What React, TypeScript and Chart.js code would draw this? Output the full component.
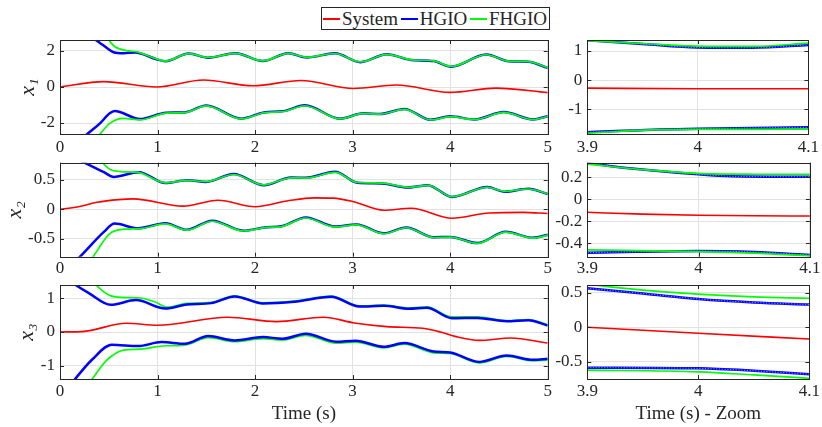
import React, { useEffect, useRef } from 'react';
import { Chart, registerables } from 'chart.js';

Chart.register(...registerables);

type P = [number, number][];

// ---------------- tick values / labels ----------------
const timeTicks = [0, 1, 2, 3, 4, 5];
const timeTickLabels = ['0', '1', '2', '3', '4', '5'];
const zoomTicks = [3.9, 4.0, 4.1];
const zoomTickLabels = ['3.9', '4', '4.1'];

const x1Ticks = [-2, 0, 2];
const x1TickLabels = ['-2', '0', '2'];
const x2Ticks = [-0.5, 0, 0.5];
const x2TickLabels = ['-0.5', '0', '0.5'];
const x3Ticks = [-1, 0, 1];
const x3TickLabels = ['-1', '0', '1'];
const zx1Ticks = [-1, 0, 1];
const zx1TickLabels = ['-1', '0', '1'];
const zx2Ticks = [-0.4, -0.2, 0, 0.2];
const zx2TickLabels = ['-0.4', '-0.2', '0', '0.2'];
const zx3Ticks = [-0.5, 0, 0.5];
const zx3TickLabels = ['-0.5', '0', '0.5'];

const legendLabels = ['System', 'HGIO', 'FHGIO'];

// ---------------- x1 (0..5 s) ----------------
const sysX1: P = [[0, 0], [0.45, 0.3], [0.99, 0.0], [1.47, 0.39], [1.98, 0.07], [2.47, 0.36], [3.01, -0.08], [3.45, 0.11], [4.0, -0.3], [4.47, -0.06], [5.0, -0.31]];
const hgioUpX1: P = [[0, 4.0], [0.37, 2.6], [0.44, 2.33], [0.55, 1.93], [0.65, 1.87], [0.77, 1.92], [0.99, 1.54], [1.08, 1.43], [1.32, 1.86], [1.52, 1.63], [1.8, 1.88], [2.08, 1.44], [2.34, 1.88], [2.53, 1.64], [2.82, 1.87], [3.08, 1.38], [3.35, 1.82], [3.6, 1.5], [3.83, 1.44], [4.01, 1.12], [4.37, 1.8], [4.6, 1.43], [4.8, 1.4], [5.0, 1.06]];
const hgioLoX1: P = [[0, -4.0], [0.28, -2.61], [0.41, -2.02], [0.51, -1.46], [0.56, -1.33], [0.82, -1.78], [1.09, -1.43], [1.28, -1.41], [1.5, -1.03], [1.86, -1.76], [2.09, -1.41], [2.29, -1.34], [2.51, -1.02], [2.87, -1.76], [3.11, -1.46], [3.28, -1.5], [3.53, -1.22], [3.8, -1.82], [4.0, -1.63], [4.25, -1.8], [4.55, -1.39], [4.85, -1.8], [5.0, -1.62]];
const fhgioUpX1: P = [[0, 6.0], [0.3, 3.8], [0.5, 2.6], [0.56, 2.25], [0.68, 2.02], [0.79, 1.95], [0.99, 1.56], [1.08, 1.44], [1.32, 1.85], [1.52, 1.64], [1.8, 1.87], [2.08, 1.45], [2.34, 1.87], [2.53, 1.65], [2.82, 1.86], [3.08, 1.39], [3.35, 1.81], [3.6, 1.51], [3.83, 1.45], [4.01, 1.14], [4.37, 1.79], [4.6, 1.44], [4.8, 1.41], [5.0, 1.08]];
const fhgioLoX1: P = [[0, -5.5], [0.25, -3.6], [0.41, -2.61], [0.51, -2.02], [0.65, -1.74], [0.82, -1.83], [1.09, -1.45], [1.28, -1.42], [1.5, -1.05], [1.86, -1.77], [2.09, -1.43], [2.29, -1.36], [2.51, -1.04], [2.87, -1.77], [3.11, -1.47], [3.28, -1.51], [3.53, -1.24], [3.8, -1.83], [4.0, -1.65], [4.25, -1.81], [4.55, -1.41], [4.85, -1.81], [5.0, -1.64]];

// ---------------- x2 (0..5 s) ----------------
const sysX2: P = [[0, 0], [0.2, 0.05], [0.38, 0.12], [0.6, 0.165], [0.75, 0.178], [1.26, 0.055], [1.62, 0.155], [2.0, 0.045], [2.35, 0.15], [2.6, 0.195], [2.8, 0.19], [3.01, 0.13], [3.32, -0.015], [3.6, 0.02], [4.02, -0.15], [4.4, -0.06], [4.75, -0.05], [5.0, -0.07]];
const hgioUpX2: P = [[0, 1.0], [0.24, 0.8], [0.45, 0.63], [0.55, 0.55], [0.81, 0.63], [1.08, 0.445], [1.3, 0.495], [1.5, 0.465], [1.78, 0.6], [2.09, 0.41], [2.37, 0.54], [2.52, 0.535], [2.82, 0.635], [3.05, 0.45], [3.3, 0.44], [3.57, 0.37], [3.77, 0.41], [4.02, 0.21], [4.38, 0.38], [4.56, 0.3], [4.8, 0.35], [5.0, 0.26]];
const hgioLoX2: P = [[0, -1.12], [0.205, -0.8], [0.45, -0.38], [0.56, -0.24], [0.8, -0.32], [1.08, -0.235], [1.3, -0.345], [1.56, -0.19], [1.88, -0.36], [2.12, -0.3], [2.27, -0.285], [2.52, -0.135], [2.82, -0.29], [3.04, -0.255], [3.32, -0.405], [3.55, -0.305], [3.83, -0.47], [4.0, -0.465], [4.28, -0.57], [4.57, -0.38], [4.85, -0.48], [5.0, -0.43]];
const fhgioUpX2: P = [[0, 1.8], [0.3, 1.05], [0.43, 0.8], [0.51, 0.68], [0.62, 0.64], [0.8, 0.625], [1.08, 0.45], [1.3, 0.49], [1.5, 0.47], [1.78, 0.59], [2.09, 0.415], [2.37, 0.535], [2.52, 0.53], [2.82, 0.625], [3.05, 0.455], [3.3, 0.445], [3.57, 0.375], [3.77, 0.405], [4.02, 0.215], [4.38, 0.375], [4.56, 0.305], [4.8, 0.345], [5.0, 0.265]];
const fhgioLoX2: P = [[0, -1.6], [0.34, -0.8], [0.51, -0.41], [0.65, -0.335], [0.82, -0.325], [1.08, -0.245], [1.3, -0.35], [1.56, -0.2], [1.88, -0.365], [2.12, -0.305], [2.27, -0.29], [2.52, -0.145], [2.82, -0.295], [3.04, -0.26], [3.32, -0.41], [3.55, -0.31], [3.83, -0.475], [4.0, -0.47], [4.28, -0.575], [4.57, -0.385], [4.85, -0.485], [5.0, -0.435]];

// ---------------- x3 (0..5 s) ----------------
const sysX3: P = [[0, 0], [0.25, 0.02], [0.68, 0.26], [1.0, 0.2], [1.72, 0.44], [2.22, 0.31], [2.7, 0.44], [3.02, 0.27], [3.35, 0.16], [3.72, 0.11], [3.9, 0.0], [4.05, -0.13], [4.3, -0.25], [4.62, -0.18], [5.0, -0.33]];
const hgioUpX3: P = [[0, 1.75], [0.15, 1.42], [0.3, 1.15], [0.52, 0.81], [0.78, 0.95], [1.08, 0.7], [1.3, 0.82], [1.55, 0.86], [1.79, 1.06], [2.08, 0.85], [2.4, 0.9], [2.78, 1.05], [3.07, 0.76], [3.32, 0.78], [3.58, 0.69], [3.76, 0.72], [4.02, 0.41], [4.28, 0.42], [4.58, 0.32], [4.8, 0.35], [5.0, 0.19]];
const hgioLoX3: P = [[0, -2.0], [0.15, -1.42], [0.33, -0.82], [0.53, -0.38], [0.8, -0.42], [1.04, -0.3], [1.28, -0.35], [1.52, -0.12], [1.79, -0.25], [2.08, -0.15], [2.28, -0.2], [2.52, -0.05], [2.83, -0.29], [3.03, -0.26], [3.32, -0.44], [3.53, -0.33], [3.83, -0.58], [4.0, -0.61], [4.3, -0.89], [4.58, -0.7], [4.85, -0.83], [5.0, -0.8]];
const fhgioUpX3: P = [[0, 3.0], [0.2, 2.0], [0.37, 1.4], [0.5, 1.1], [0.63, 1.03], [0.8, 1.02], [0.97, 0.9], [1.1, 0.74], [1.3, 0.85], [1.55, 0.88], [1.79, 1.08], [2.08, 0.87], [2.4, 0.92], [2.78, 1.07], [3.07, 0.78], [3.32, 0.8], [3.58, 0.72], [3.76, 0.75], [4.02, 0.45], [4.28, 0.45], [4.58, 0.34], [4.8, 0.37], [5.0, 0.22]];
const fhgioLoX3: P = [[0, -3.0], [0.2, -1.9], [0.33, -1.4], [0.48, -0.84], [0.65, -0.54], [0.82, -0.51], [1.08, -0.41], [1.28, -0.39], [1.52, -0.17], [1.79, -0.29], [2.08, -0.2], [2.28, -0.24], [2.52, -0.1], [2.83, -0.33], [3.03, -0.3], [3.32, -0.47], [3.53, -0.36], [3.83, -0.62], [4.0, -0.64], [4.3, -0.92], [4.58, -0.73], [4.85, -0.86], [5.0, -0.84]];

// ---------------- zoom 3.9..4.1 s ----------------
const zSysX1: P = [[3.9, -0.28], [4.0, -0.3], [4.1, -0.3]];
const zHgioUpX1: P = [[3.9, 1.37], [3.95, 1.24], [4.0, 1.12], [4.05, 1.11], [4.1, 1.21]];
const zHgioLoX1: P = [[3.9, -1.8], [3.96, -1.71], [4.0, -1.68], [4.05, -1.65], [4.1, -1.63]];
const zFhgioUpX1: P = [[3.9, 1.36], [3.95, 1.26], [4.0, 1.17], [4.05, 1.16], [4.1, 1.27]];
const zFhgioLoX1: P = [[3.9, -1.83], [3.96, -1.72], [4.0, -1.7], [4.05, -1.7], [4.1, -1.69]];

const zSysX2: P = [[3.9, -0.118], [3.95, -0.135], [4.0, -0.145], [4.05, -0.15], [4.1, -0.152]];
const zHgioUpX2: P = [[3.9, 0.33], [3.94, 0.28], [4.0, 0.227], [4.03, 0.21], [4.1, 0.205]];
const zHgioLoX2: P = [[3.9, -0.485], [4.0, -0.47], [4.05, -0.48], [4.1, -0.506]];
const zFhgioUpX2: P = [[3.9, 0.32], [3.95, 0.27], [4.0, 0.236], [4.05, 0.228], [4.1, 0.227]];
const zFhgioLoX2: P = [[3.9, -0.46], [4.0, -0.476], [4.05, -0.49], [4.1, -0.515]];

const zSysX3: P = [[3.9, 0.0], [4.0, -0.087], [4.1, -0.17]];
const zHgioUpX3: P = [[3.9, 0.565], [3.95, 0.49], [4.0, 0.41], [4.05, 0.36], [4.1, 0.33]];
const zHgioLoX3: P = [[3.9, -0.585], [4.0, -0.595], [4.05, -0.63], [4.1, -0.68]];
const zFhgioUpX3: P = [[3.9, 0.62], [3.95, 0.54], [4.0, 0.48], [4.05, 0.44], [4.1, 0.42]];
const zFhgioLoX3: P = [[3.9, -0.62], [4.0, -0.645], [4.05, -0.69], [4.1, -0.74]];

// ---------------- styling ----------------
const W = 822;
const H = 427;
const FONT = '"Liberation Serif", "Times New Roman", serif';
const TXT = '#262626';
const GRID = '#e2e2e2';
const RED = '#ff0000';
const BLUE = '#0000ff';
const GREEN = '#00ff00';

interface Series { sys: P; hu: P; hl: P; gu: P; gl: P }
interface Panel {
  series: Series;
  xMin: number; xMax: number; xTicks: number[]; xLabels: string[];
  yMin: number; yMax: number; yTicks: number[]; yLabels: string[];
  left: number; top: number; right: number; bottom: number;
  padLeft: number; xH: number; xPad: number;
  yTitle?: string; xTitle?: string; chatter?: boolean; blueTop?: boolean;
}

const LEFT = { left: 60, right: 547.7 };
const RIGHT = { left: 587.3, right: 811 };
const ROWS = [
  { top: 40, bottom: 134 },
  { top: 162.7, bottom: 256.7 },
  { top: 285, bottom: 379 },
];

const panels: Panel[] = [
  { series: { sys: sysX1, hu: hgioUpX1, hl: hgioLoX1, gu: fhgioUpX1, gl: fhgioLoX1 }, xMin: 0, xMax: 5, xTicks: timeTicks, xLabels: timeTickLabels, yMin: -2.61, yMax: 2.61, yTicks: x1Ticks, yLabels: x1TickLabels, ...LEFT, ...ROWS[0], padLeft: 15.5, xH: 30, xPad: 3, yTitle: 'x₁' },
  { series: { sys: sysX2, hu: hgioUpX2, hl: hgioLoX2, gu: fhgioUpX2, gl: fhgioLoX2 }, xMin: 0, xMax: 5, xTicks: timeTicks, xLabels: timeTickLabels, yMin: -0.8, yMax: 0.79, yTicks: x2Ticks, yLabels: x2TickLabels, ...LEFT, ...ROWS[1], padLeft: 2, xH: 30, xPad: 1.5, yTitle: 'x₂' },
  { series: { sys: sysX3, hu: hgioUpX3, hl: hgioLoX3, gu: fhgioUpX3, gl: fhgioLoX3 }, xMin: 0, xMax: 5, xTicks: timeTicks, xLabels: timeTickLabels, yMin: -1.4, yMax: 1.4, yTicks: x3Ticks, yLabels: x3TickLabels, ...LEFT, ...ROWS[2], padLeft: 14.5, xH: 48, xPad: 2, yTitle: 'x₃', xTitle: 'Time (s)', blueTop: true },
  { series: { sys: zSysX1, hu: zHgioUpX1, hl: zHgioLoX1, gu: zFhgioUpX1, gl: zFhgioLoX1 }, xMin: 3.9, xMax: 4.1, xTicks: zoomTicks, xLabels: zoomTickLabels, yMin: -1.86, yMax: 1.38, yTicks: zx1Ticks, yLabels: zx1TickLabels, ...RIGHT, ...ROWS[0], padLeft: 540, xH: 30, xPad: 3, chatter: true },
  { series: { sys: zSysX2, hu: zHgioUpX2, hl: zHgioLoX2, gu: zFhgioUpX2, gl: zFhgioLoX2 }, xMin: 3.9, xMax: 4.1, xTicks: zoomTicks, xLabels: zoomTickLabels, yMin: -0.522, yMax: 0.333, yTicks: zx2Ticks, yLabels: zx2TickLabels, ...RIGHT, ...ROWS[1], padLeft: 540, xH: 30, xPad: 1.5, chatter: true },
  { series: { sys: zSysX3, hu: zHgioUpX3, hl: zHgioLoX3, gu: zFhgioUpX3, gl: zFhgioLoX3 }, xMin: 3.9, xMax: 4.1, xTicks: zoomTicks, xLabels: zoomTickLabels, yMin: -0.749, yMax: 0.613, yTicks: zx3Ticks, yLabels: zx3TickLabels, ...RIGHT, ...ROWS[2], padLeft: 540, xH: 48, xPad: 2, xTitle: 'Time (s) - Zoom', chatter: true },
];

const toXY = (p: P) => p.map(([x, y]) => ({ x, y }));

const boxPlugin = {
  id: 'matlabBox',
  afterDatasetsDraw(chart: any) {
    const { ctx, chartArea: a, scales } = chart;
    const L = 4;
    ctx.save();
    ctx.strokeStyle = TXT;
    ctx.lineWidth = 1;
    ctx.beginPath();
    scales.x.ticks.forEach((t: any) => {
      const px = Math.round(scales.x.getPixelForValue(t.value)) + 0.5;
      ctx.moveTo(px, a.bottom); ctx.lineTo(px, a.bottom - L);
      ctx.moveTo(px, a.top); ctx.lineTo(px, a.top + L);
    });
    scales.y.ticks.forEach((t: any) => {
      const py = Math.round(scales.y.getPixelForValue(t.value)) + 0.5;
      ctx.moveTo(a.left, py); ctx.lineTo(a.left + L, py);
      ctx.moveTo(a.right, py); ctx.lineTo(a.right - L, py);
    });
    ctx.stroke();
    ctx.strokeRect(Math.round(a.left) + 0.5, Math.round(a.top) + 0.5, Math.round(a.right - a.left), Math.round(a.bottom - a.top));
    ctx.restore();
  },
};

function line(data: P, color: string, width: number, extra: any = {}) {
  return {
    data: toXY(data),
    borderColor: color,
    borderWidth: width,
    pointRadius: 0,
    fill: false,
    cubicInterpolationMode: 'monotone',
    ...extra,
  };
}

function buildDatasets(p: Panel) {
  const s = p.series;
  const green = [line(s.gu, GREEN, 1.7), line(s.gl, GREEN, 1.7)];
  const blue = [line(s.hu, BLUE, 2.5), line(s.hl, BLUE, 2.5)];
  const chatter = p.chatter
    ? [
        line(s.hu, 'rgba(255,255,255,0.6)', 0.9, { borderDash: [1.2, 1.6] }),
        line(s.hl, 'rgba(255,255,255,0.6)', 0.9, { borderDash: [1.2, 1.6] }),
      ]
    : [];
  const red = [line(s.sys, RED, 1.6)];
  // first dataset is drawn on top
  return p.blueTop ? [...chatter, ...blue, ...green, ...red] : [...green, ...chatter, ...blue, ...red];
}

function PanelChart({ p }: { p: Panel }) {
  const ref = useRef<HTMLCanvasElement | null>(null);
  useEffect(() => {
    if (!ref.current) return;
    const tickFont = { family: FONT, size: 17 };
    const chart = new Chart(ref.current, {
      type: 'line',
      data: { datasets: buildDatasets(p) as any },
      plugins: [boxPlugin],
      options: {
        animation: false,
        responsive: false,
        maintainAspectRatio: false,
        events: [],
        layout: {
          autoPadding: false,
          padding: { left: p.padLeft, top: p.top, right: W - p.right, bottom: H - p.bottom - p.xH },
        },
        plugins: { legend: { display: false }, tooltip: { enabled: false } },
        scales: {
          x: {
            type: 'linear',
            min: p.xMin,
            max: p.xMax,
            afterBuildTicks: (sc: any) => { sc.ticks = p.xTicks.map((v) => ({ value: v })); },
            afterFit: (sc: any) => { sc.height = p.xH; },
            grid: { color: GRID, lineWidth: 1, drawTicks: false },
            border: { display: false },
            ticks: {
              padding: p.xPad,
              font: tickFont,
              color: TXT,
              maxRotation: 0,
              autoSkip: false,
              callback: (_v: any, i: number) => p.xLabels[i],
            },
            title: p.xTitle
              ? { display: true, text: p.xTitle, color: TXT, font: { family: FONT, size: 19 }, padding: { top: 0, bottom: 2 } }
              : { display: false },
          },
          y: {
            type: 'linear',
            min: p.yMin,
            max: p.yMax,
            afterBuildTicks: (sc: any) => { sc.ticks = p.yTicks.map((v) => ({ value: v })); },
            afterFit: (sc: any) => { sc.width = p.left - p.padLeft; },
            grid: { color: GRID, lineWidth: 1, drawTicks: false },
            border: { display: false },
            ticks: {
              padding: 5,
              font: tickFont,
              color: TXT,
              autoSkip: false,
              callback: (_v: any, i: number) => p.yLabels[i],
            },
            title: p.yTitle
              ? { display: true, text: p.yTitle, color: TXT, font: { family: FONT, size: 22, style: 'italic' }, padding: 0 }
              : { display: false },
          },
        },
      } as any,
    });
    return () => chart.destroy();
  }, [p]);
  return (
    <canvas
      ref={ref}
      width={W}
      height={H}
      style={{ position: 'absolute', left: 0, top: 0, width: W, height: H }}
    />
  );
}

function Legend() {
  const colors = [RED, BLUE, GREEN];
  return (
    <div
      style={{
        position: 'absolute',
        left: 321,
        top: 7,
        width: 229,
        height: 23,
        boxSizing: 'border-box',
        border: `1px solid ${TXT}`,
        background: '#fff',
        display: 'flex',
        alignItems: 'center',
        justifyContent: 'space-between',
        padding: '0 2px 0 1px',
        fontFamily: FONT,
        fontSize: 19,
        color: TXT,
        zIndex: 5,
      }}
    >
      {legendLabels.map((lab, i) => (
        <div key={lab} style={{ display: 'flex', alignItems: 'center' }}>
          <span style={{ display: 'inline-block', width: 17, height: 2, background: colors[i], marginRight: 2 }} />
          <span style={{ lineHeight: '20px' }}>{lab}</span>
        </div>
      ))}
    </div>
  );
}

export default function App() {
  return (
    <div style={{ position: 'absolute', left: 0, top: 0, width: W, height: H, background: '#fff', overflow: 'hidden' }}>
      {panels.map((p, i) => (
        <PanelChart key={i} p={p} />
      ))}
      <Legend />
    </div>
  );
}
